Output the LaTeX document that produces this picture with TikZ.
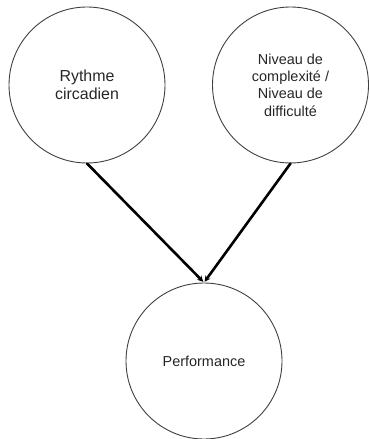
\documentclass[tikz,border=0pt]{standalone}
\usepackage{fontspec}
\setmainfont{Liberation Sans}
\usetikzlibrary{arrows.meta}

\begin{document}
\begin{tikzpicture}[x=1bp, y=-1bp, line cap=round, line join=round, >={Stealth[length=6bp, width=6bp]},
    bubble/.style={circle, draw=black!75, line width=0.9bp, inner sep=0pt, minimum size=156bp, align=center, text=black!85},
    link/.style={->, line width=2.6bp, color=black, shorten >=1bp}]
    \useasboundingbox (0,0) rectangle (369,439);

    \node[bubble, font=\fontsize{16}{18}\selectfont] (rythme) at (87,85) {Rythme\\circadien};
    \node[bubble, font=\fontsize{14.5}{17.3}\selectfont] (niveau) at (290.5,85) {Niveau de\\complexité /\\Niveau de\\difficulté};
    \node[bubble, font=\fontsize{14.5}{17.3}\selectfont] (perf) at (204,361) {Performance};

    \draw[link] (rythme.south) -- (perf.north);
    \draw[link] (niveau.south) -- (perf.north);

  \end{tikzpicture}
\end{document}
